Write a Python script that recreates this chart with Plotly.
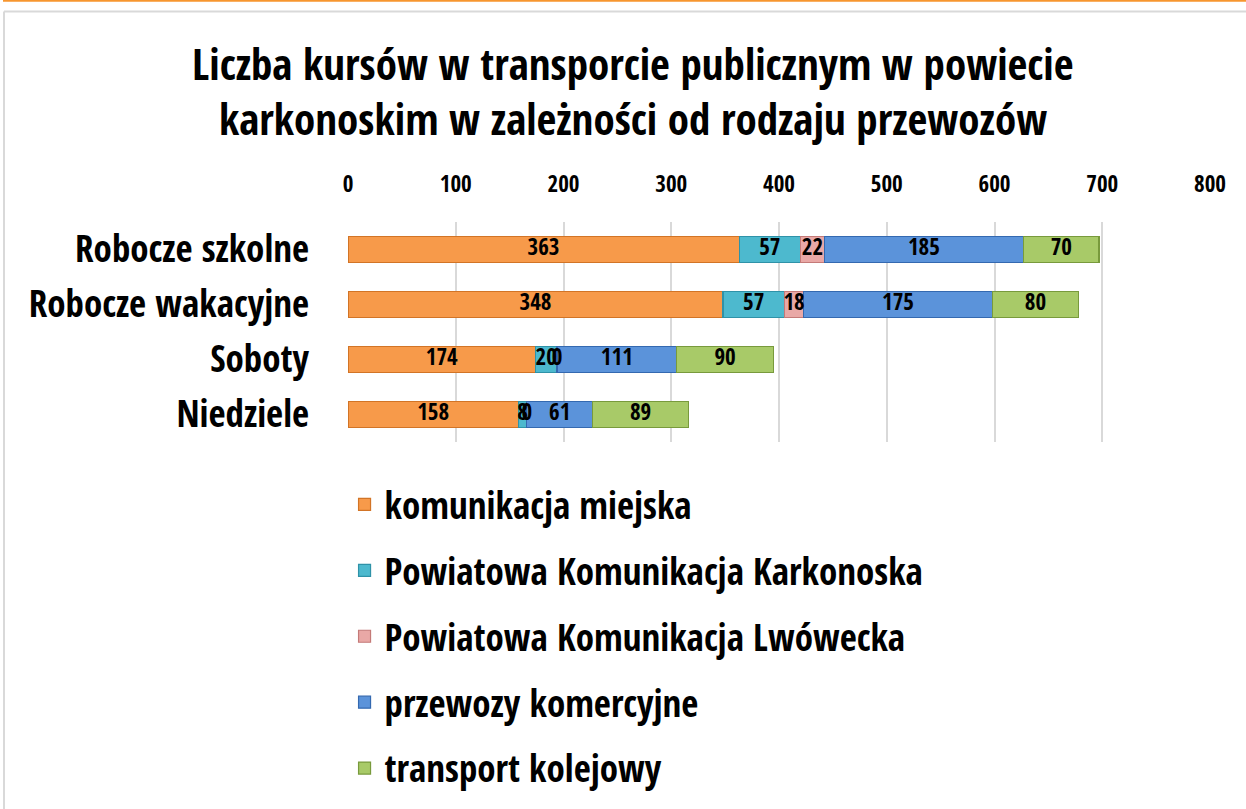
import plotly.graph_objects as go

categories = ["Robocze szkolne", "Robocze wakacyjne", "Soboty", "Niedziele"]
series_names = [
    "komunikacja miejska",
    "Powiatowa Komunikacja Karkonoska",
    "Powiatowa Komunikacja Lwówecka",
    "przewozy komercyjne",
    "transport kolejowy",
]
komunikacja_miejska = [363, 348, 174, 158]
pkk = [57, 57, 20, 8]
pkl = [22, 18, 0, 0]
przewozy_komercyjne = [185, 175, 111, 61]
transport_kolejowy = [70, 80, 90, 89]
x_ticks = [0, 100, 200, 300, 400, 500, 600, 700, 800]

series_values = [komunikacja_miejska, pkk, pkl, przewozy_komercyjne, transport_kolejowy]
fills = ["#F79A4A", "#4DB9CE", "#E9A8A6", "#5B93DA", "#A8CA68"]
edges = ["#D27426", "#2F92A8", "#C47A78", "#3469B0", "#789A3C"]

FONT = "Open Sans Condensed, Roboto Condensed, sans-serif"

fig = go.Figure()
for i, (name, vals) in enumerate(zip(series_names, series_values)):
    fig.add_trace(go.Bar(
        y=categories, x=vals, name=name, orientation="h",
        marker=dict(color=fills[i], line=dict(color=edges[i], width=1.2)),
        legendgroup=f"g{i}", hoverinfo="x+name",
    ))

# data labels at the middle of each stacked segment (computed from the data)
lab_x, lab_y, lab_t = [], [], []
cum = [0] * len(categories)
for vals in series_values:
    for j, v in enumerate(vals):
        lab_x.append(cum[j] + v / 2)
        lab_y.append(categories[j])
        lab_t.append(str(v))
        cum[j] += v
fig.add_trace(go.Scatter(
    x=lab_x, y=lab_y, text=lab_t, mode="text", showlegend=False, hoverinfo="skip",
    textfont=dict(family=FONT, size=23, color="black", weight="bold"),
))

TOP = 222
fig.update_layout(
    barmode="stack",
    bargap=0.52,
    width=1246, height=809,
    margin=dict(l=348, r=36, t=TOP, b=367, pad=0, autoexpand=False),
    paper_bgcolor="white", plot_bgcolor="white",
    font=dict(family=FONT, color="black"),
    showlegend=True,
    legend=dict(
        orientation="v", x=-0.004, xanchor="left", y=-0.145, yanchor="top",
        font=dict(family=FONT, size=37, color="black", weight="bold"),
        tracegroupgap=14.8, itemwidth=30, bgcolor="rgba(0,0,0,0)", borderwidth=0,
    ),
    xaxis=dict(
        side="top", range=[0, 800], tickvals=x_ticks,
        showgrid=True, gridcolor="#D9D9D9", gridwidth=2,
        zeroline=False, showline=False, fixedrange=True,
        tickfont=dict(family=FONT, size=23, color="black", weight="bold"),
        ticklabelstandoff=24,
    ),
    yaxis=dict(
        autorange="reversed", showgrid=False, showline=False, fixedrange=True,
        tickfont=dict(family=FONT, size=37, color="black", weight="bold"),
        ticklabelstandoff=38,
    ),
    annotations=[
        dict(text="Liczba kursów w transporcie publicznym w powiecie", xref="paper", yref="paper",
             x=(633 - 348) / 862, y=1 + (TOP - 63) / 220, showarrow=False, xanchor="center", yanchor="middle",
             font=dict(family=FONT, size=43, color="black", weight="bold")),
        dict(text="karkonoskim w zależności od rodzaju przewozów", xref="paper", yref="paper",
             x=(633 - 348) / 862, y=1 + (TOP - 118) / 220, showarrow=False, xanchor="center", yanchor="middle",
             font=dict(family=FONT, size=43, color="black", weight="bold")),
    ],
    shapes=[
        dict(type="line", xref="paper", yref="paper", x0=(3 - 348) / 862, x1=1.05,
             y0=1 + (TOP - 0.8) / 220, y1=1 + (TOP - 0.8) / 220,
             line=dict(color="#F7962F", width=2)),
        dict(type="line", xref="paper", yref="paper", x0=(4 - 348) / 862, x1=1.05,
             y0=1 + (TOP - 11.5) / 220, y1=1 + (TOP - 11.5) / 220,
             line=dict(color="#D9D9D9", width=2)),
        dict(type="line", xref="paper", yref="paper", x0=(4 - 348) / 862, x1=(4 - 348) / 862,
             y0=1 + (TOP - 11.5) / 220, y1=-2,
             line=dict(color="#D9D9D9", width=2)),
    ],
)

fig.write_html("out.html", config={"displayModeBar": False},
               post_script="document.body.style.margin='0';")
